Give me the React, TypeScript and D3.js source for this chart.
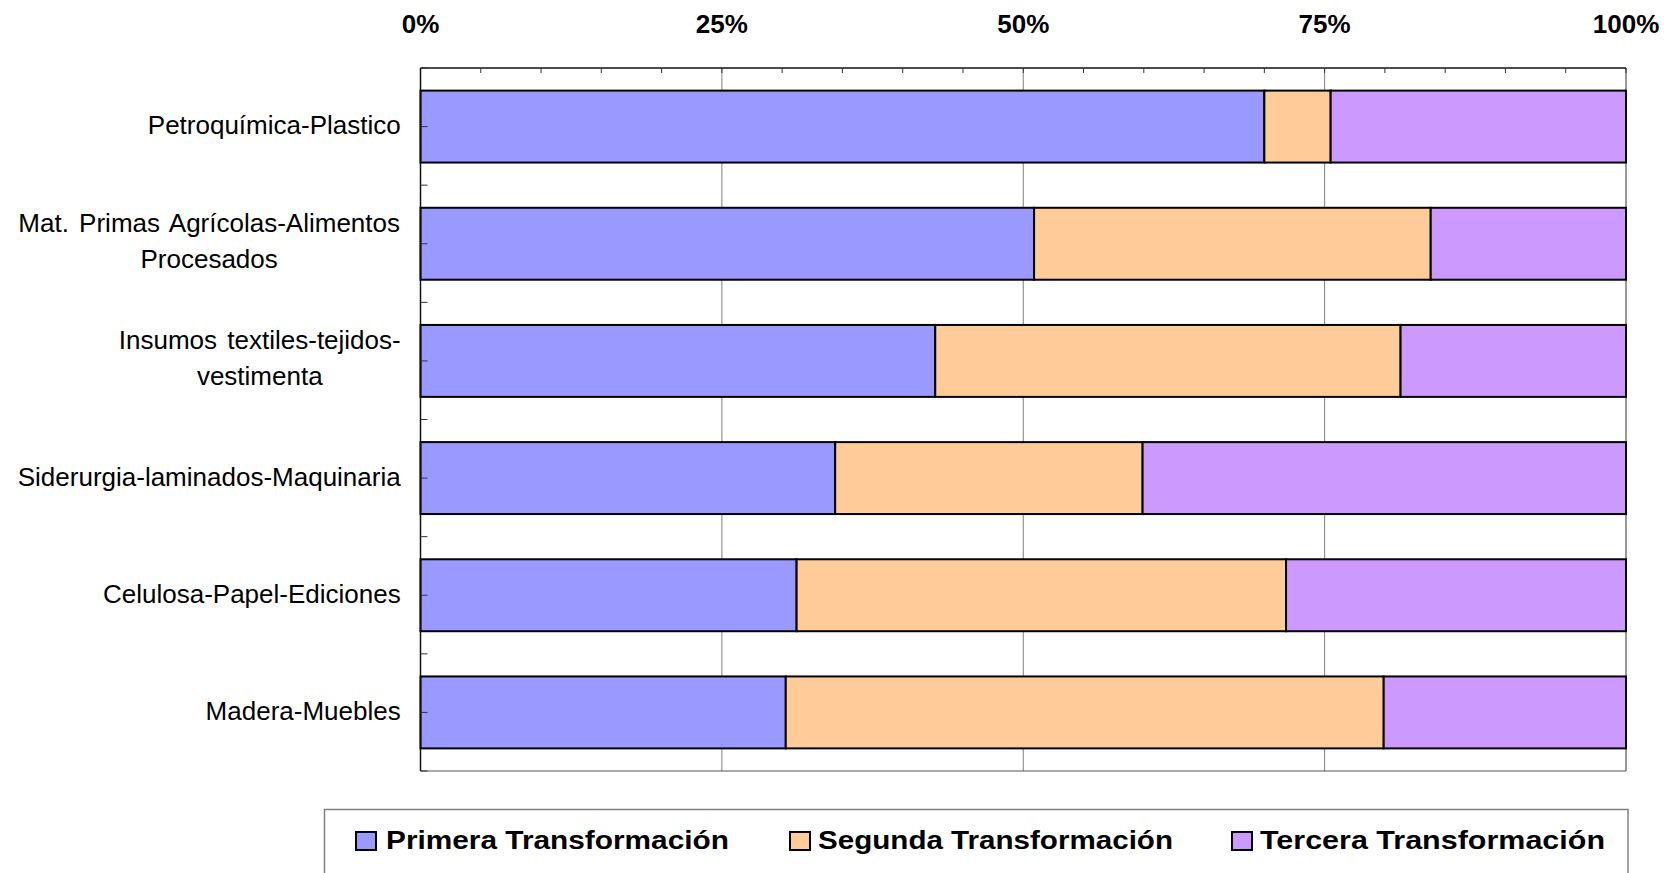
import React from "react";
import * as d3 from "d3";

const categories = [
  "Petroquímica-Plastico",
  "Mat. Primas Agrícolas-Alimentos|Procesados",
  "Insumos textiles-tejidos-|vestimenta",
  "Siderurgia-laminados-Maquinaria",
  "Celulosa-Papel-Ediciones",
  "Madera-Muebles",
];
const primera = [70.0, 50.9, 42.7, 34.4, 31.2, 30.3];
const segunda = [5.5, 32.9, 38.6, 25.5, 40.6, 49.6];
const tercera = [24.5, 16.2, 18.7, 40.1, 28.2, 20.1];
const seriesNames = ["Primera Transformación", "Segunda Transformación", "Tercera Transformación"];
const seriesColors = ["#9999FF", "#FFCC99", "#CC99FF"];
const tickValues = [0, 25, 50, 75, 100];

const FONT = "'Liberation Sans', Arial, sans-serif";

function measure(text: string, font: string, wordSpacing: number): number {
  const c = document.createElement("canvas").getContext("2d");
  if (!c) return text.length * 12;
  c.font = font;
  const spaces = (text.match(/ /g) || []).length;
  return c.measureText(text).width + spaces * wordSpacing;
}

export default function App() {
  const W = 1672, H = 873;
  const left = 420.5, right = 1626, top = 68, bottom = 771;
  const x = d3.scaleLinear().domain([0, 100]).range([left, right]);
  const y = d3.scaleBand<number>().domain(d3.range(categories.length)).range([top, bottom]).paddingInner(0.386).paddingOuter(0.193);
  const step = y.step();

  const rows = categories.map((_, i) => [primera[i], segunda[i], tercera[i]]);
  const stacked = rows.map((r) => {
    let acc = 0;
    return r.map((v) => {
      const s = [acc, acc + v];
      acc += v;
      return s;
    });
  });

  const minorTicks = d3.range(0, 101, 5);
  const catTicks = d3.range(0, categories.length * 2 + 1).map((k) => top + (k * step) / 2);

  const legendX = [356, 790, 1232];
  const legendTextX = [386, 818, 1260];
  const legendTextW = [343, 355, 345];
  const ws = 3;

  return (
    <svg width={W} height={H} style={{ position: "absolute", left: 0, top: 0, background: "#fff" }} fontFamily={FONT}>
      <rect x={0} y={0} width={W} height={H} fill="#fff" />
      {[25, 50, 75].map((v) => (
        <line key={v} x1={x(v)} x2={x(v)} y1={top} y2={bottom} stroke="#808080" strokeWidth={1} />
      ))}
      <line x1={right} x2={right} y1={top} y2={bottom} stroke="#555" strokeWidth={1.2} />
      <line x1={left} x2={right} y1={bottom} y2={bottom} stroke="#555" strokeWidth={1.2} />
      <line x1={left} x2={right} y1={top} y2={top} stroke="#111" strokeWidth={1.5} />
      {minorTicks.map((v) => (
        <line key={v} x1={x(v)} x2={x(v)} y1={top} y2={top + 5} stroke="#333" strokeWidth={1} />
      ))}
      {tickValues.map((v) => (
        <text key={v} x={x(v)} y={33.3} textAnchor="middle" fontSize={26} fontWeight="bold" fill="#000">
          {v + "%"}
        </text>
      ))}
      {stacked.map((segs, i) =>
        segs.map((s, j) => (
          <rect
            key={i + "-" + j}
            x={x(s[0])}
            y={y(i) as number}
            width={x(s[1]) - x(s[0])}
            height={y.bandwidth()}
            fill={seriesColors[j]}
            stroke="#000"
            strokeWidth={2}
          />
        ))
      )}
      <line x1={left} x2={left} y1={top} y2={bottom} stroke="#111" strokeWidth={1.5} />
      {catTicks.map((ty, k) => (
        <line key={k} x1={left} x2={left + 7} y1={ty} y2={ty} stroke="#333" strokeWidth={1} />
      ))}
      {categories.map((c, i) => {
        const lines = c.split("|");
        const cy = (y(i) as number) + y.bandwidth() / 2;
        const labelRight = 400.7;
        if (lines.length === 1) {
          return (
            <text key={i} x={labelRight} y={cy + 7.7} textAnchor="end" fontSize={26} fill="#000" wordSpacing={ws}>
              {c}
            </text>
          );
        }
        const font = `26px ${FONT}`;
        const maxW = Math.max(...lines.map((l) => measure(l, font, ws)));
        const cx = labelRight - maxW / 2;
        return (
          <text key={i} textAnchor="middle" fontSize={26} fill="#000" wordSpacing={ws}>
            {lines.map((l, k) => (
              <tspan key={k} x={cx} y={cy - 12 + k * 36.5}>
                {l}
              </tspan>
            ))}
          </text>
        );
      })}
      <rect x={324.5} y={809.5} width={1303.5} height={80} fill="#fff" stroke="#808080" strokeWidth={1.5} />
      {seriesNames.map((n, j) => (
        <g key={n}>
          <rect x={legendX[j]} y={832} width={20} height={18} fill={seriesColors[j]} stroke="#000" strokeWidth={2} />
          <text
            x={legendTextX[j]}
            y={849.3}
            fontSize={25}
            fontWeight="bold"
            fill="#000"
            textLength={legendTextW[j]}
            lengthAdjust="spacingAndGlyphs"
          >
            {n}
          </text>
        </g>
      ))}
    </svg>
  );
}
